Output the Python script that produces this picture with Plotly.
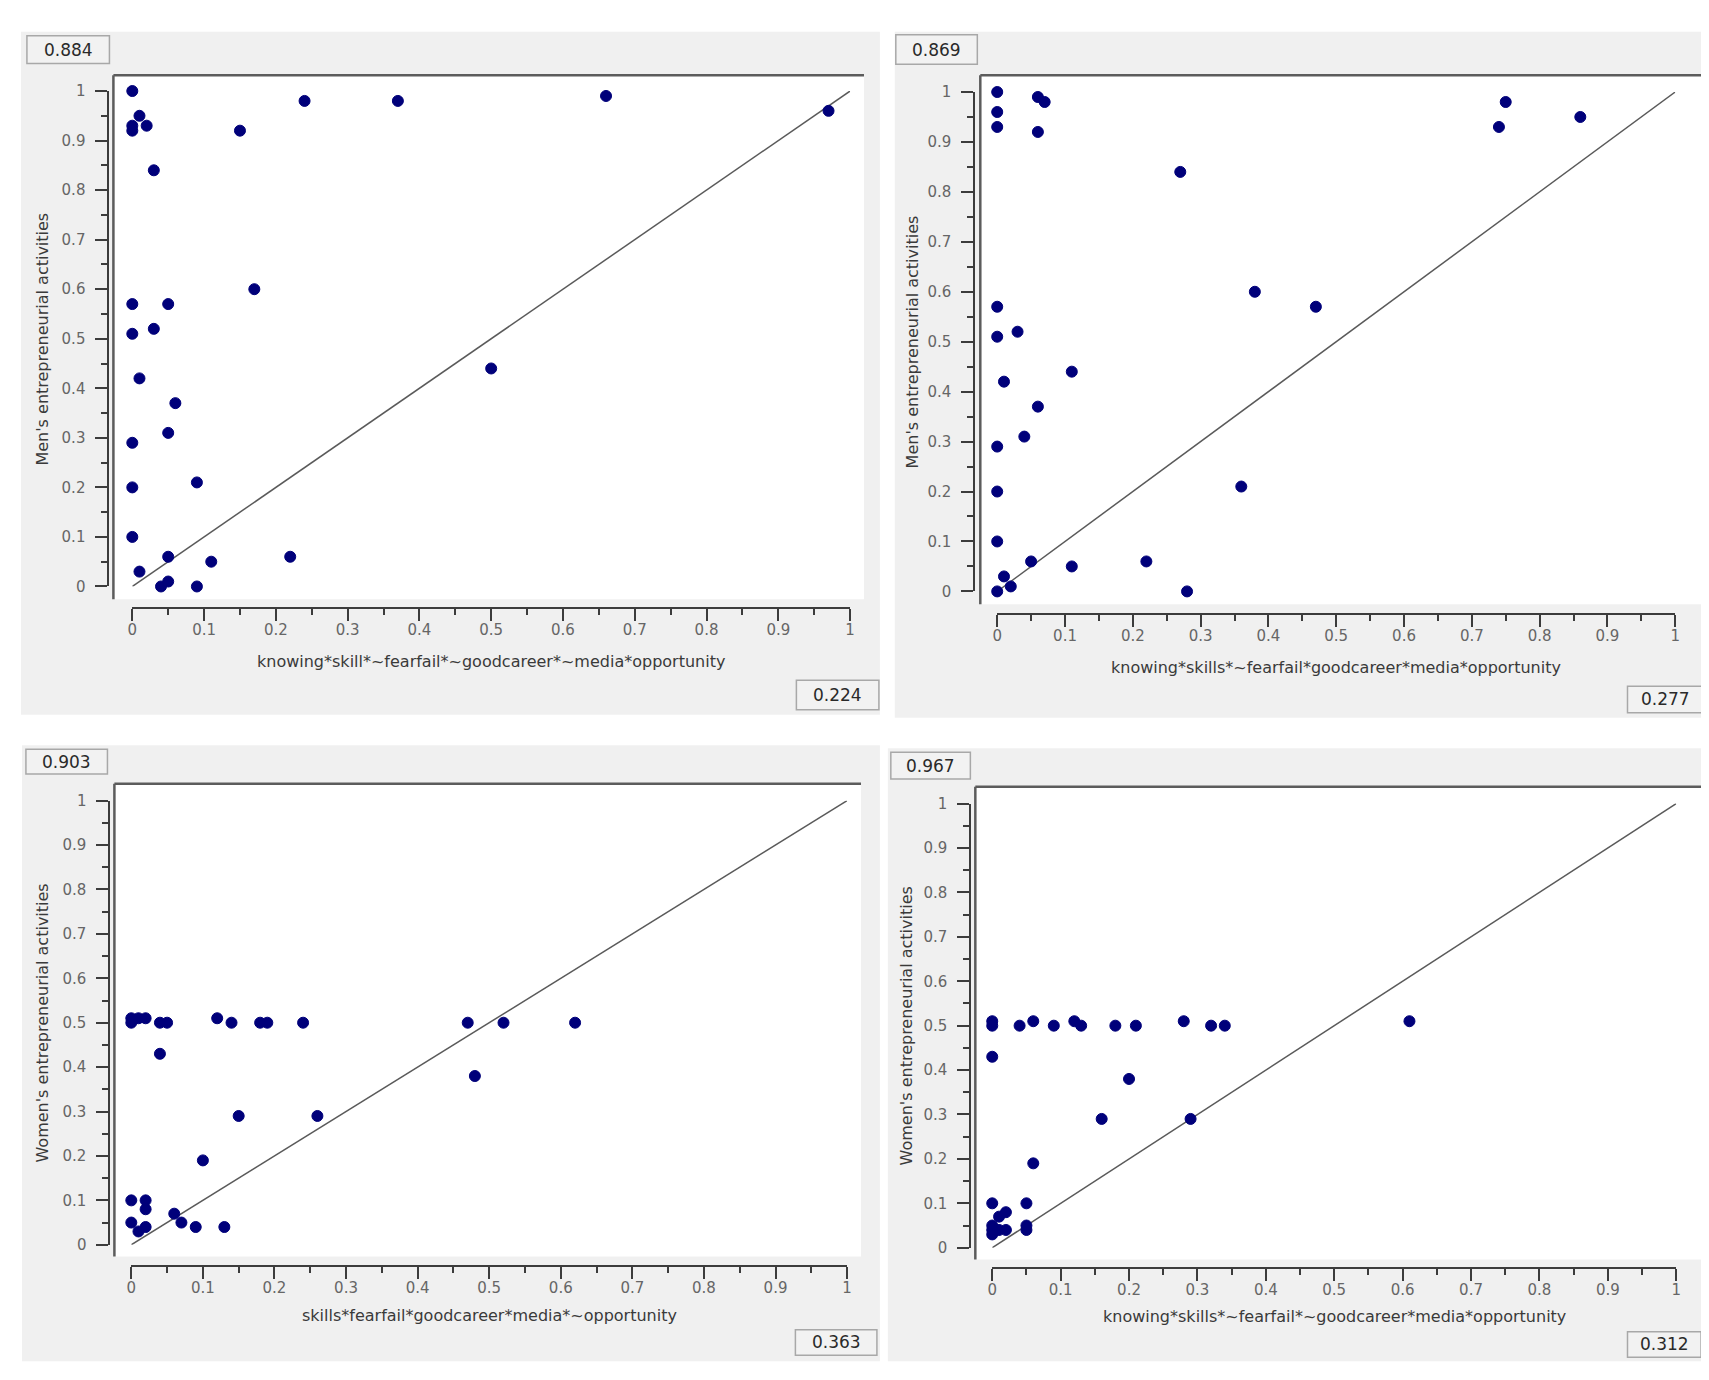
import plotly.graph_objects as go

W = 1709
H = 1380

# men, first configuration
men1_x = [0, 0.01, 0, 0, 0.02, 0.03, 0.15, 0.24, 0.37, 0.66, 0.97,
          0, 0.05, 0.03, 0, 0.17, 0.01, 0.06, 0.05, 0.5,
          0, 0, 0.09, 0, 0.05, 0.01, 0.11, 0.22, 0.04, 0.05, 0.09]
men1_y = [1.0, 0.95, 0.93, 0.92, 0.93, 0.84, 0.92, 0.98, 0.98, 0.99, 0.96,
          0.57, 0.57, 0.52, 0.51, 0.60, 0.42, 0.37, 0.31, 0.44,
          0.29, 0.20, 0.21, 0.10, 0.06, 0.03, 0.05, 0.06, 0.0, 0.01, 0.0]

# men, second configuration
men2_x = [0, 0, 0, 0.06, 0.07, 0.06, 0.27, 0.74, 0.75, 0.86,
          0, 0, 0.03, 0.01, 0.11, 0.06, 0.04, 0.38, 0.47,
          0, 0, 0.36, 0, 0.05, 0.01, 0.11, 0.22, 0.02, 0, 0.28]
men2_y = [1.0, 0.96, 0.93, 0.99, 0.98, 0.92, 0.84, 0.93, 0.98, 0.95,
          0.57, 0.51, 0.52, 0.42, 0.44, 0.37, 0.31, 0.60, 0.57,
          0.29, 0.20, 0.21, 0.10, 0.06, 0.03, 0.05, 0.06, 0.01, 0.0, 0.0]

# women, first configuration
women1_x = [0, 0, 0.01, 0.02, 0.04, 0.05, 0.12, 0.14, 0.18, 0.19, 0.24, 0.47, 0.52, 0.62,
            0.04, 0.48, 0.15, 0.26, 0.10,
            0, 0.02, 0.02, 0, 0.01, 0.02, 0.06, 0.07, 0.09, 0.13]
women1_y = [0.50, 0.51, 0.51, 0.51, 0.50, 0.50, 0.51, 0.50, 0.50, 0.50, 0.50, 0.50, 0.50, 0.50,
            0.43, 0.38, 0.29, 0.29, 0.19,
            0.10, 0.10, 0.08, 0.05, 0.03, 0.04, 0.07, 0.05, 0.04, 0.04]

# women, second configuration
women2_x = [0, 0, 0.04, 0.06, 0.09, 0.12, 0.13, 0.18, 0.21, 0.28, 0.32, 0.34, 0.61,
            0, 0.20, 0.16, 0.29, 0.06,
            0, 0.05, 0.01, 0.02, 0, 0.01, 0.02, 0.05, 0.05, 0, 0]
women2_y = [0.51, 0.50, 0.50, 0.51, 0.50, 0.51, 0.50, 0.50, 0.50, 0.51, 0.50, 0.50, 0.51,
            0.43, 0.38, 0.29, 0.29, 0.19,
            0.10, 0.10, 0.07, 0.08, 0.05, 0.04, 0.04, 0.05, 0.04, 0.03, 0.04]

x_titles = ["knowing*skill*~fearfail*~goodcareer*~media*opportunity",
            "knowing*skills*~fearfail*goodcareer*media*opportunity",
            "skills*fearfail*goodcareer*media*~opportunity",
            "knowing*skills*~fearfail*~goodcareer*media*opportunity"]
y_titles = ["Men's entrepreneurial activities",
            "Men's entrepreneurial activities",
            "Women's entrepreneurial activities",
            "Women's entrepreneurial activities"]
consistency = ["0.884", "0.869", "0.903", "0.967"]
coverage = ["0.224", "0.277", "0.363", "0.312"]

diag = [0, 1]

series = [(men1_x, men1_y), (men2_x, men2_y), (women1_x, women1_y), (women2_x, women2_y)]

# pixel layout of each panel
panels = [
    dict(x0=120, x1=842, y0=577, y1=75, xline=599, yline=96,
         bg=(8, 15, 872, 707), white=(101, 59, 856, 590),
         tl=(14, 19, 97, 47), br=(788, 672, 871, 702), xt=653, yt=30),
    dict(x0=990, x1=1672, y0=582, y1=76, xline=605, yline=967,
         bg=(887, 15, 1706, 710), white=(973, 59, 1701, 595),
         tl=(888, 18, 970, 48), br=(1624, 678, 1701, 705), xt=659, yt=905),
    dict(x0=119, x1=839, y0=1244, y1=794, xline=1265, yline=97,
         bg=(9, 738, 872, 1362), white=(102, 777, 853, 1256),
         tl=(13, 742, 95, 767), br=(787, 1330, 869, 1356), xt=1316, yt=30),
    dict(x0=985, x1=1673, y0=1247, y1=797, xline=1268, yline=963,
         bg=(880, 741, 1704, 1362), white=(968, 780, 1700, 1259),
         tl=(883, 745, 963, 772), br=(1624, 1332, 1698, 1358), xt=1317, yt=899),
]

def px(v):
    return v / W

def py(v):
    return 1 - v / H

fig = go.Figure()
shapes = []
annotations = []
layout = {}

for i, p in enumerate(panels):
    n = "" if i == 0 else str(i + 1)
    xs, ys = series[i]

    fig.add_trace(go.Scatter(x=diag, y=diag, mode="lines",
                             line=dict(color="#5a5a5a", width=1.5),
                             xaxis="x" + n, yaxis="y" + n, hoverinfo="skip"))
    fig.add_trace(go.Scatter(x=xs, y=ys, mode="markers", cliponaxis=False,
                             marker=dict(symbol="circle", size=11, color="#00007a",
                                         line=dict(color="#00007a", width=1)),
                             xaxis="x" + n, yaxis="y" + n))

    ax = dict(range=[0, 1], domain=[px(p["x0"]), px(p["x1"])], anchor="free",
              position=py(p["xline"]), showgrid=False, zeroline=False,
              showline=True, linecolor="#3c3c3c", linewidth=2,
              ticks="outside", ticklen=12, tickwidth=2, tickcolor="#3c3c3c",
              dtick=0.1, tick0=0, ticklabelstandoff=-4,
              minor=dict(dtick=0.05, ticklen=6, tickwidth=2, tickcolor="#3c3c3c", ticks="outside"),
              tickfont=dict(family="DejaVu Sans", size=15, color="#666666"),
              fixedrange=True)
    ay = dict(ax)
    ay.update(domain=[py(p["y0"]), py(p["y1"])], position=px(p["yline"]), ticklabelstandoff=7)
    layout["xaxis" + n] = ax
    layout["yaxis" + n] = ay

    bx0, by0, bx1, by1 = p["bg"]
    shapes.append(dict(type="rect", xref="paper", yref="paper", layer="below",
                       x0=px(bx0), x1=px(bx1), y0=py(by0), y1=py(by1),
                       fillcolor="#f0f0f0", line=dict(width=0)))
    wx0, wy0, wx1, wy1 = p["white"]
    shapes.append(dict(type="rect", xref="paper", yref="paper", layer="below",
                       x0=px(wx0), x1=px(wx1), y0=py(wy0), y1=py(wy1),
                       fillcolor="white", line=dict(width=0)))
    # sunken frame: dark top and left edge
    shapes.append(dict(type="line", xref="paper", yref="paper", layer="below",
                       x0=px(wx0), x1=px(wx1), y0=py(wy0), y1=py(wy0),
                       line=dict(color="#5c5c5c", width=2.5)))
    shapes.append(dict(type="line", xref="paper", yref="paper", layer="below",
                       x0=px(wx0), x1=px(wx0), y0=py(wy0), y1=py(wy1),
                       line=dict(color="#5c5c5c", width=2.5)))

    for box, txt in ((p["tl"], consistency[i]), (p["br"], coverage[i])):
        shapes.append(dict(type="rect", xref="paper", yref="paper", layer="below",
                           x0=px(box[0]), x1=px(box[2]), y0=py(box[1]), y1=py(box[3]),
                           fillcolor="#f2f2f2", line=dict(color="#a8a8a8", width=1.5)))
        annotations.append(dict(xref="paper", yref="paper", showarrow=False,
                                x=px((box[0] + box[2]) / 2), y=py((box[1] + box[3]) / 2),
                                xanchor="center", yanchor="middle", text=txt,
                                font=dict(family="DejaVu Sans", size=17, color="#2a2a2a")))

    annotations.append(dict(xref="paper", yref="paper", showarrow=False,
                            x=px((p["x0"] + p["x1"]) / 2), y=py(p["xt"]),
                            xanchor="center", yanchor="middle", text=x_titles[i],
                            font=dict(family="DejaVu Sans", size=16, color="#3a3a3a")))
    annotations.append(dict(xref="paper", yref="paper", showarrow=False, textangle=-90,
                            x=px(p["yt"]), y=py((p["y0"] + p["y1"]) / 2),
                            xanchor="center", yanchor="middle", text=y_titles[i],
                            font=dict(family="DejaVu Sans", size=16, color="#3a3a3a")))

fig.update_layout(width=W, height=H, margin=dict(l=0, r=0, t=0, b=0),
                  paper_bgcolor="white", plot_bgcolor="rgba(0,0,0,0)",
                  showlegend=False, shapes=shapes, annotations=annotations,
                  **layout)

fig.write_html("out.html")
